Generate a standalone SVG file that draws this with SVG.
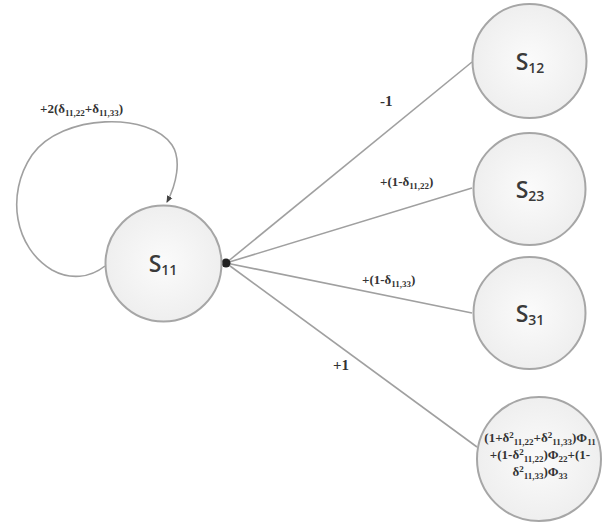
<svg xmlns="http://www.w3.org/2000/svg" width="614" height="525" viewBox="0 0 614 525">
<style>
.node{fill:url(#g);stroke:#a6a6a6;stroke-width:2}
.edge{fill:none;stroke:#a0a0a0;stroke-width:1.6}
.name{font-family:"Open Sans","Liberation Sans",Arial,sans-serif;font-size:23px;font-weight:600;fill:#3a3a3a;text-anchor:middle}
.ns{font-size:14px}
.lbl{font-family:"Liberation Serif","Times New Roman",serif;font-size:13px;font-weight:bold;fill:#333}
.sub{font-size:9px}
.big{font-family:"Liberation Serif","Times New Roman",serif;font-size:13px;font-weight:bold;fill:#333;text-anchor:middle}
</style>
<defs>
<radialGradient id="g" cx="0.5" cy="0.5" r="0.6">
<stop offset="0" stop-color="#fbfbfb"/>
<stop offset="1" stop-color="#ececec"/>
</radialGradient>
<marker id="ah" markerWidth="8" markerHeight="8" refX="6" refY="4" orient="auto" markerUnits="userSpaceOnUse">
<path d="M0,1 L7,4 L0,7 Z" fill="#444"/>
</marker>
</defs>
<g id="connectors">
<path class="edge" d="M105,266 C90,278 70,280 52,270 C15,248 5,195 32,155 C62,113 150,112 172,145 C182,160 176,185 167,202" marker-end="url(#ah)"/>
<line class="edge" x1="226" y1="263" x2="472" y2="62"/>
<line class="edge" x1="226" y1="263" x2="472" y2="188"/>
<line class="edge" x1="226" y1="263" x2="472" y2="313"/>
<line class="edge" x1="226" y1="263" x2="477" y2="447"/>
<circle cx="226" cy="263" r="4.5" fill="#222"/>
<text class="lbl" x="40" y="113">+2(δ<tspan class="sub" baseline-shift="-3px">11,22</tspan>+δ<tspan class="sub" baseline-shift="-3px">11,33</tspan>)</text>
<text class="lbl" x="380" y="106" style="font-size:15px">-1</text>
<text class="lbl" x="380" y="186">+(1-δ<tspan class="sub" baseline-shift="-3px">11,22</tspan>)</text>
<text class="lbl" x="362" y="284">+(1-δ<tspan class="sub" baseline-shift="-3px">11,33</tspan>)</text>
<text class="lbl" x="333" y="370" style="font-size:15px">+1</text>
</g>
<g id="S11">
<circle class="node" cx="163.5" cy="263.5" r="58"/>
<text class="name" x="163" y="272">S<tspan class="ns" baseline-shift="-3px">11</tspan></text>
</g>
<g id="S12">
<circle class="node" cx="529.5" cy="61" r="57"/>
<text class="name" x="530" y="70">S<tspan class="ns" baseline-shift="-3px">12</tspan></text>
</g>
<g id="S23">
<circle class="node" cx="529.5" cy="189" r="56"/>
<text class="name" x="530" y="198">S<tspan class="ns" baseline-shift="-3px">23</tspan></text>
</g>
<g id="S31">
<circle class="node" cx="529.5" cy="313" r="56"/>
<text class="name" x="530" y="322">S<tspan class="ns" baseline-shift="-3px">31</tspan></text>
</g>
<g id="S_end">
<circle class="node" cx="539" cy="459" r="62"/>
<text class="big" x="540" y="442">(1+δ<tspan class="sub" baseline-shift="4px">2</tspan><tspan class="sub" baseline-shift="-3px">11,22</tspan>+δ<tspan class="sub" baseline-shift="4px">2</tspan><tspan class="sub" baseline-shift="-3px">11,33</tspan>)Φ<tspan class="sub" baseline-shift="-3px">11</tspan></text>
<text class="big" x="540" y="459">+(1-δ<tspan class="sub" baseline-shift="4px">2</tspan><tspan class="sub" baseline-shift="-3px">11,22</tspan>)Φ<tspan class="sub" baseline-shift="-3px">22</tspan>+(1-</text>
<text class="big" x="540" y="476">δ<tspan class="sub" baseline-shift="4px">2</tspan><tspan class="sub" baseline-shift="-3px">11,33</tspan>)Φ<tspan class="sub" baseline-shift="-3px">33</tspan></text>
</g>
</svg>
